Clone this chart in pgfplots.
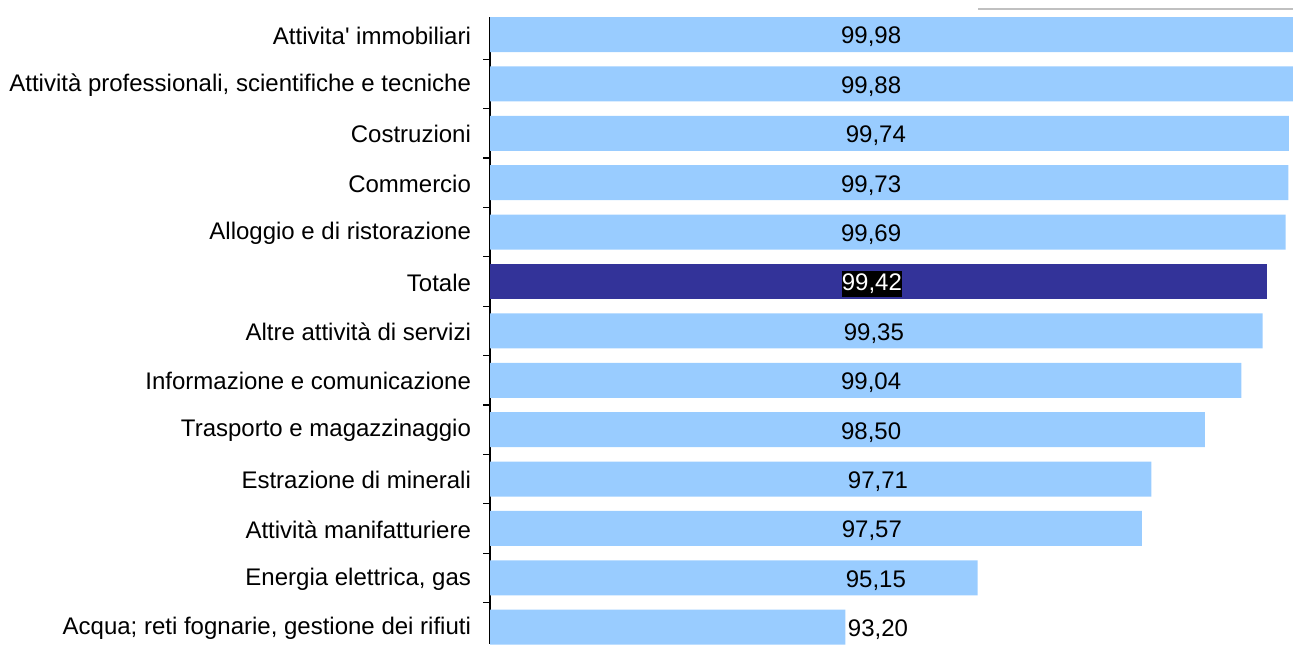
\documentclass[border=0pt]{standalone}
\usepackage{fontspec}
\setmainfont{Liberation Sans}[Ligatures=TeXOff]
\usepackage{pgfplots}
\usepackage{pgfplotstable}
\pgfplotsset{compat=1.18}
\definecolor{lightbar}{HTML}{99CCFF}
\definecolor{darkbar}{HTML}{333399}
\definecolor{topgray}{HTML}{C0C0C0}

\pgfplotstableread{
y v
0 99.98
1 99.88
2 99.74
3 99.73
4 99.69
6 99.35
7 99.04
8 98.50
9 97.71
10 97.57
11 95.15
12 93.20
}\bars

\pgfplotstableread{
y v
5 99.42
}\totale

\pgfplotstableread{
y x lab
0 93.58 99,98
1 93.58 99,88
2 93.65 99,74
3 93.58 99,73
4 93.58 99,69
6 93.62 99,35
7 93.58 99,04
8 93.58 98,50
9 93.68 97,71
10 93.59 97,57
11 93.65 95,15
12 93.68 93,20
}\labels

\pgfplotstableread{
y x lab
5 93.59 99,42
}\totlabel

\begin{document}
\begin{tikzpicture}[font=\fontsize{12}{14}\selectfont]
\begin{axis}[
  at={(245pt,0pt)}, anchor=south west,
  scale only axis, width=401.5pt, height=313.5pt,
  xmin=87.96, xmax=99.80,
  ymin=-0.355, ymax=12.34, y dir=reverse,
  hide x axis,
  axis y line*=left,
  axis line style={-, line width=1pt, black},
  ytick={0,...,12},
  yticklabels={{Attivita' immobiliari},{Attività professionali, scientifiche e tecniche},{Costruzioni},{Commercio},{Alloggio e di ristorazione},{Totale},{Altre attività di servizi},{Informazione e comunicazione},{Trasporto e magazzinaggio},{Estrazione di minerali},{Attività manifatturiere},{Energia elettrica, gas},{Acqua; reti fognarie, gestione dei rifiuti}},
  major tick length=0pt,
  minor ytick={0.5,1.5,...,11.5},
  minor tick length=3.5pt,
  tick align=outside,
  minor tick style={black, line width=0.6pt},
  yticklabel style={font=\fontsize{12}{14}\selectfont, xshift=-6pt, yshift=-0.5pt},
  clip=true,
]
\addplot[xbar, bar width=17.5pt, bar shift=0pt, fill=lightbar, draw=none] table[x=v, y=y] {\bars};
\addplot[xbar, bar width=17.5pt, bar shift=0pt, fill=darkbar, draw=none] table[x=v, y=y] {\totale};
\addplot[only marks, mark=none, nodes near coords, point meta=explicit symbolic,
  every node near coord/.append style={anchor=center, yshift=-1.25pt, font=\fontsize{12}{14}\selectfont, text=black}]
  table[x=x, y=y, meta=lab] {\labels};
\addplot[only marks, mark=none, nodes near coords, point meta=explicit symbolic,
  every node near coord/.append style={anchor=center, yshift=-1.25pt, font=\fontsize{12}{14}\selectfont, text=white, fill=black, inner xsep=0pt, inner ysep=1.5pt}]
  table[x=x, y=y, meta=lab] {\totlabel};
\end{axis}
\draw[topgray, line width=1pt] (489pt,317.25pt) -- (646.5pt,317.25pt);
\pgfresetboundingbox
\useasboundingbox (0,0) rectangle (646.5pt,322pt);
\end{tikzpicture}
\end{document}
